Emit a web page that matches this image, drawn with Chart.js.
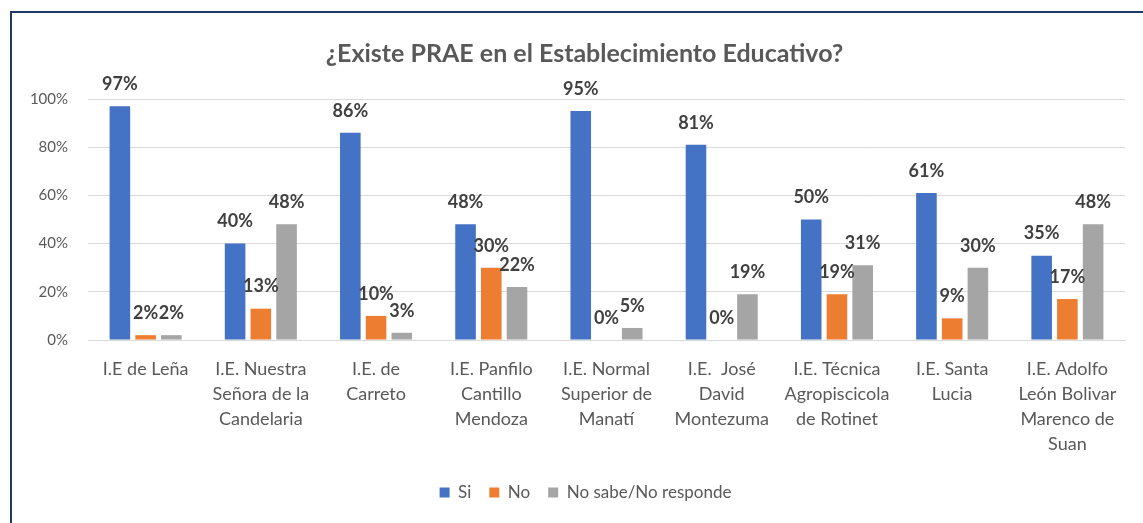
<!DOCTYPE html>
<html>
<head>
<meta charset="utf-8">
<script src="https://cdn.jsdelivr.net/npm/chart.js@4"></script>
<style>
  body { margin: 0; background: #fff; }
  #wrap { position: relative; width: 1143px; height: 523px; }
  #frame { position: absolute; left: 10px; top: 11px; right: 0; bottom: 0;
           border-top: 2px solid #1F3864; border-left: 2px solid #1F3864; }
  canvas { position: absolute; left: 0; top: 0; }
</style>
</head>
<body>
<div id="wrap">
  <div id="frame"></div>
  <canvas id="barChart" width="1143" height="523"></canvas>
</div>
<script>
// categorias (etiquetas en varias lineas)
let schools = [
    ["I.E de Leña"],
    ["I.E. Nuestra", "Señora de la", "Candelaria"],
    ["I.E. de", "Carreto"],
    ["I.E. Panfilo", "Cantillo", "Mendoza"],
    ["I.E. Normal", "Superior de", "Manatí"],
    ["I.E.  José", "David", "Montezuma"],
    ["I.E. Técnica", "Agropiscicola", "de Rotinet"],
    ["I.E. Santa", "Lucia"],
    ["I.E. Adolfo", "León Bolivar", "Marenco de", "Suan"]
];
let si = [97, 40, 86, 48, 95, 81, 50, 61, 35];
let no = [2, 13, 10, 30, 0, 0, 19, 9, 17];
let noSabe = [2, 48, 3, 22, 5, 19, 31, 30, 48];
let seriesNames = ["Si", "No", "No sabe/No responde"];
let yTicks = [0, 20, 40, 60, 80, 100];

const FONT = "Lato, 'Noto Sans', sans-serif";
const TEXT = "#595959";

// etiquetas de datos encima de cada barra
const barLabels = {
    id: "barLabels",
    afterDatasetsDraw(chart) {
        let ctx = chart.ctx;
        ctx.save();
        ctx.font = "bold 18px " + FONT;
        ctx.fillStyle = "#404040";
        ctx.textAlign = "center";
        ctx.textBaseline = "middle";
        chart.data.datasets.forEach((ds, i) => {
            chart.getDatasetMeta(i).data.forEach((bar, j) => {
                ctx.fillText(ds.data[j] + "%", bar.x, bar.y - 22);
            });
        });
        ctx.restore();
    }
};

// el grafico original esta recortado: titulo y leyenda quedan algo a la derecha
const shiftCenter = {
    id: "shiftCenter",
    afterLayout(chart) {
        chart.titleBlock.left += 22;
        chart.titleBlock.right += 22;
        chart.legend.left += 23;
        chart.legend.right += 23;
    }
};

let ctx = document.getElementById("barChart").getContext("2d");
window.myChart = new Chart(ctx, {
    type: "bar",
    data: {
        labels: schools,
        datasets: [
            { label: seriesNames[0], data: si, backgroundColor: "#4472C4" },
            { label: seriesNames[1], data: no, backgroundColor: "#ED7D31" },
            { label: seriesNames[2], data: noSabe, backgroundColor: "#A5A5A5" }
        ]
    },
    options: {
        responsive: false,
        animation: false,
        categoryPercentage: 0.67,
        barPercentage: 0.8,
        layout: { padding: { left: 0, right: 18, top: 0, bottom: 12 } },
        plugins: {
            title: {
                display: true,
                text: "¿Existe PRAE en el Establecimiento Educativo?",
                color: TEXT,
                font: { family: FONT, size: 25, weight: "bold" },
                padding: { top: 39, bottom: 30 }
            },
            legend: {
                position: "bottom",
                labels: {
                    color: TEXT,
                    font: { family: FONT, size: 17 },
                    boxWidth: 10,
                    boxHeight: 10,
                    padding: 18
                }
            },
            tooltip: { enabled: false }
        },
        scales: {
            x: {
                grid: { display: false },
                border: { color: "#D9D9D9", width: 1 },
                ticks: {
                    color: TEXT,
                    font: { family: FONT, size: 18, lineHeight: 1.39 },
                    padding: 9,
                    maxRotation: 0,
                    autoSkip: false
                },
                afterFit(scale) { scale.height = 126; }
            },
            y: {
                min: 0,
                max: 100,
                afterBuildTicks(scale) { scale.ticks = yTicks.map(v => ({ value: v })); },
                grid: { color: "#D9D9D9", drawTicks: false },
                border: { display: false },
                ticks: {
                    color: TEXT,
                    font: { family: FONT, size: 15 },
                    padding: 20,
                    callback: v => v + "%"
                },
                afterFit(scale) { scale.width = 88; }
            }
        }
    },
    plugins: [barLabels, shiftCenter]
});
</script>
</body>
</html>
